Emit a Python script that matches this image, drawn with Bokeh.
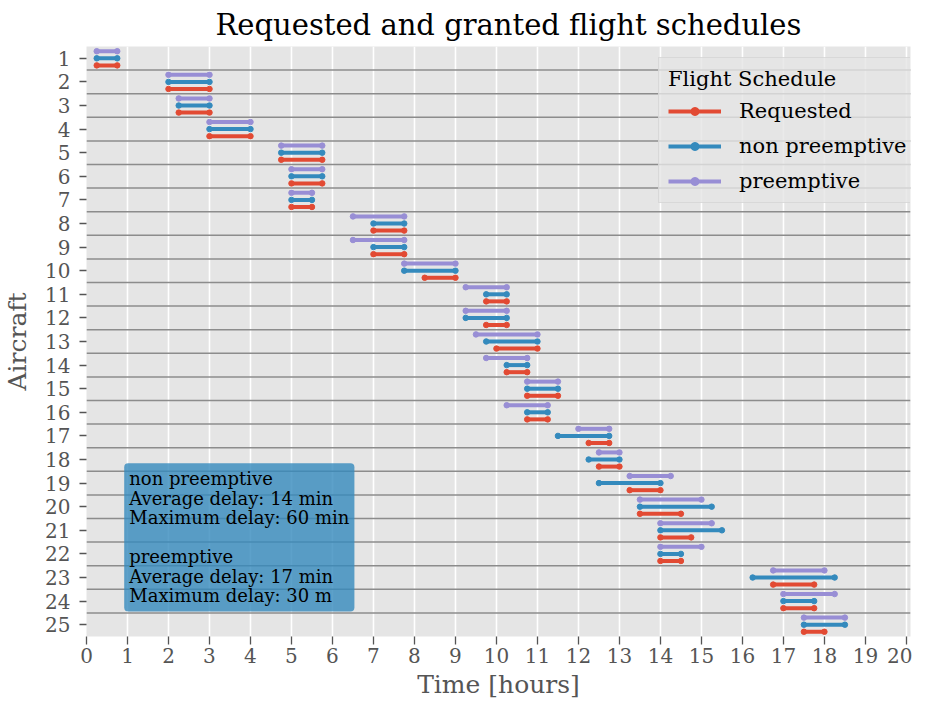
from bokeh.plotting import figure
from bokeh.models import Range1d, Span, Label, ColumnDataSource, FixedTicker
from bokeh.embed import file_html
from bokeh.resources import INLINE

# ---- data (hours) ----
aircraft = list(range(1, 26))
req_start = [0.25, 2.0, 2.25, 3.0, 4.75, 5.0, 5.0, 7.0, 7.0, 8.25, 9.75, 9.75, 10.0,
             10.25, 10.75, 10.75, 12.25, 12.5, 13.25, 13.5, 14.0, 14.0, 16.75, 17.0, 17.5]
req_end = [0.75, 3.0, 3.0, 4.0, 5.75, 5.75, 5.5, 7.75, 7.75, 9.0, 10.25, 10.25, 11.0,
           10.75, 11.5, 11.25, 12.75, 13.0, 14.0, 14.5, 14.75, 14.5, 17.75, 17.75, 18.0]
np_start = [0.25, 2.0, 2.25, 3.0, 4.75, 5.0, 5.0, 7.0, 7.0, 7.75, 9.75, 9.25, 9.75,
            10.25, 10.75, 10.75, 11.5, 12.25, 12.5, 13.5, 14.0, 14.0, 16.25, 17.0, 17.5]
np_end = [0.75, 3.0, 3.0, 4.0, 5.75, 5.75, 5.5, 7.75, 7.75, 9.0, 10.25, 10.25, 11.0,
          10.75, 11.5, 11.25, 12.75, 13.0, 14.0, 15.25, 15.5, 14.5, 18.25, 17.75, 18.5]
p_start = [0.25, 2.0, 2.25, 3.0, 4.75, 5.0, 5.0, 6.5, 6.5, 7.75, 9.25, 9.25, 9.5,
           9.75, 10.75, 10.25, 12.0, 12.5, 13.25, 13.5, 14.0, 14.0, 16.75, 17.0, 17.5]
p_end = [0.75, 3.0, 3.0, 4.0, 5.75, 5.75, 5.5, 7.75, 7.75, 9.0, 10.25, 10.25, 11.0,
         10.75, 11.5, 11.25, 12.75, 13.0, 14.25, 15.0, 15.25, 15.0, 18.0, 18.25, 18.5]
x_ticks = list(range(0, 21))
series_names = ["Requested", "non preemptive", "preemptive"]
series_colors = ["#E24A33", "#348ABD", "#988ED5"]
box_text = ("non preemptive\nAverage delay: 14 min\nMaximum delay: 60 min\n\n"
            "preemptive\nAverage delay: 17 min\nMaximum delay: 30 m")

FONT = "DejaVu Serif"
GRAY = "#555555"

p = figure(width=912, height=701, output_backend="svg", toolbar_location=None,
           x_range=Range1d(0, 20.1), y_range=Range1d(25.5, 0.5),
           min_border_left=76, min_border_right=2, min_border_top=0, min_border_bottom=60)

p.title.text = "Requested and granted flight schedules"
p.title.text_font = FONT
p.title.text_font_size = "29px"
p.title.text_font_style = "normal"
p.title.text_color = "black"
p.title.align = "left"
p.title.offset = 129
p.title.standoff = 10

p.background_fill_color = "#E5E5E5"
p.border_fill_color = "white"
p.outline_line_color = None

p.xaxis.ticker = FixedTicker(ticks=x_ticks)
p.yaxis.ticker = FixedTicker(ticks=aircraft)
p.xgrid.grid_line_color = "white"
p.xgrid.grid_line_width = 1.6
p.ygrid.grid_line_color = None

for ax in (p.xaxis, p.yaxis):
    ax.axis_line_color = None
    ax.major_tick_in = 0
    ax.minor_tick_line_color = None
    ax.major_tick_line_color = GRAY
    ax.major_tick_line_width = 1.3
    ax.major_label_text_font = FONT
    ax.major_label_text_font_size = "20px"
    ax.major_label_text_color = GRAY
    ax.axis_label_text_font = FONT
    ax.axis_label_text_font_size = "25px"
    ax.axis_label_text_font_style = "normal"
    ax.axis_label_text_color = GRAY
p.xaxis.major_tick_out = 8
p.yaxis.major_tick_out = 7
p.xaxis.major_label_standoff = 3
p.yaxis.major_label_standoff = 9
p.xaxis.axis_label = "Time [hours]"
p.yaxis.axis_label = "Aircraft"
p.xaxis.axis_label_standoff = 4
p.yaxis.axis_label_standoff = 10

# row separators
for a in aircraft[:-1]:
    p.add_layout(Span(location=a + 0.5, dimension="width",
                      line_color="#8c8c8c", line_width=1.5))

offsets = [0.3, 0.0, -0.3]
starts = [req_start, np_start, p_start]
ends = [req_end, np_end, p_end]
for name, color, off, s, e in zip(series_names, series_colors, offsets, starts, ends):
    src = ColumnDataSource(dict(x0=s, x1=e, y=[a + off for a in aircraft]))
    p.segment(x0="x0", y0="y", x1="x1", y1="y", source=src, line_color=color,
              line_width=4, legend_label=name)
    p.scatter(x="x0", y="y", source=src, size=5.5, color=color, legend_label=name)
    p.scatter(x="x1", y="y", source=src, size=5.5, color=color)

lg = p.legend[0]
lg.title = "Flight Schedule"
lg.title_text_font = FONT
lg.title_text_font_size = "21px"
lg.title_text_font_style = "normal"
lg.title_text_color = "black"
lg.title_standoff = 8
lg.label_text_font = FONT
lg.label_text_font_size = "21px"
lg.label_text_color = "black"
lg.location = (572, 433)
lg.margin = 0
lg.padding = 9
lg.spacing = 11
lg.glyph_width = 53
lg.glyph_height = 20
lg.label_height = 20
lg.label_standoff = 18
lg.background_fill_color = "#E5E5E5"
lg.background_fill_alpha = 0.8
lg.border_line_color = "#CCCCCC"
lg.border_line_width = 1

box = Label(x=0.92, y=18.16, text=box_text, text_font=FONT, text_font_size="18px",
            text_color="black", text_align="left", text_baseline="top",
            text_line_height=0.93,
            background_fill_color="#348ABD", background_fill_alpha=0.8,
            padding=5, border_radius=4)
p.add_layout(box)

open("out.html", "w").write(file_html(p, INLINE))
